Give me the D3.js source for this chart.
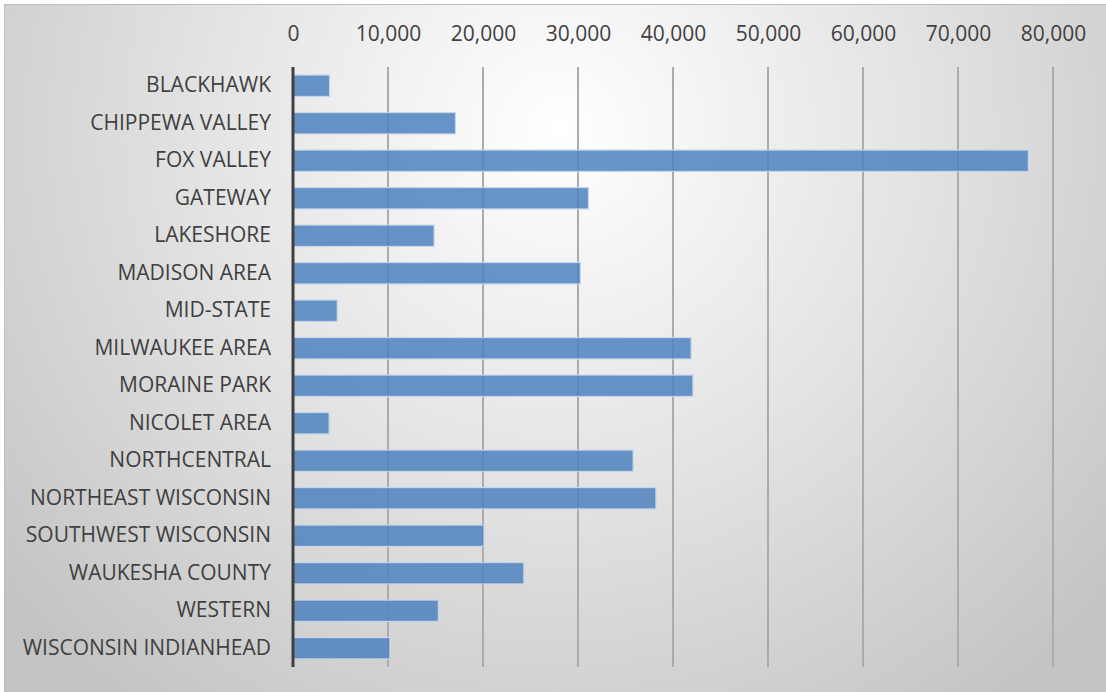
<!DOCTYPE html>
<html>
<head>
<meta charset="utf-8">
<script src="https://cdn.jsdelivr.net/npm/d3@7"></script>
<style>
  body { margin: 0; background: #fff; }
  svg text { font-family: "Open Sans", "DejaVu Sans", sans-serif; fill: #404040; }
</style>
</head>
<body>
<div id="chart"></div>
<script>
var colleges = ["BLACKHAWK", "CHIPPEWA VALLEY", "FOX VALLEY", "GATEWAY", "LAKESHORE",
  "MADISON AREA", "MID-STATE", "MILWAUKEE AREA", "MORAINE PARK", "NICOLET AREA",
  "NORTHCENTRAL", "NORTHEAST WISCONSIN", "SOUTHWEST WISCONSIN", "WAUKESHA COUNTY",
  "WESTERN", "WISCONSIN INDIANHEAD"];
var values = [3850, 17100, 77400, 31100, 14850, 30250, 4650, 41900, 42100, 3800,
  35800, 38200, 20100, 24300, 15300, 10200];
var ticks = [0, 10000, 20000, 30000, 40000, 50000, 60000, 70000, 80000];

var W = 1106, H = 692;
var margin = {top: 67, right: 53, bottom: 25, left: 293};
var width = W - margin.left - margin.right,
    height = H - margin.top - margin.bottom;

var svg = d3.select("#chart").append("svg")
  .attr("width", W)
  .attr("height", H);

var defs = svg.append("defs");
var grad = defs.append("radialGradient")
  .attr("id", "bg")
  .attr("gradientUnits", "userSpaceOnUse")
  .attr("cx", 560).attr("cy", 130).attr("r", 720);
grad.append("stop").attr("offset", "0%").attr("stop-color", "#ffffff");
grad.append("stop").attr("offset", "50%").attr("stop-color", "#e3e3e3");
grad.append("stop").attr("offset", "100%").attr("stop-color", "#c4c4c4");

svg.append("rect")
  .attr("x", 4.5).attr("y", 4.5)
  .attr("width", W).attr("height", H)
  .attr("fill", "url(#bg)")
  .attr("stroke", "#bdbdbd");

var x = d3.scaleLinear().domain([0, 80000]).range([0, width]);
var y = d3.scaleBand().domain(colleges).range([0, height]).paddingInner(0.43).paddingOuter(0.215);

var g = svg.append("g")
  .attr("transform", "translate(" + margin.left + "," + margin.top + ")");

// gridlines
g.selectAll(".grid").data(ticks.slice(1)).enter()
  .append("line")
  .attr("class", "grid")
  .attr("x1", d => x(d)).attr("x2", d => x(d))
  .attr("y1", 0).attr("y2", height)
  .attr("stroke", "#ababab")
  .attr("stroke-width", 2);

// tick labels on top
var xAxis = d3.axisTop(x).tickValues(ticks).tickSize(0).tickPadding(0)
  .tickFormat(d3.format(","));
var gx = g.append("g")
  .attr("transform", "translate(0,-26)")
  .call(xAxis);
gx.select(".domain").remove();
gx.selectAll("text").style("font-size", "21px").attr("fill", "#404040");

// bars
g.selectAll(".bar").data(values).enter()
  .append("rect")
  .attr("class", "bar")
  .attr("x", 0)
  .attr("y", (d, i) => y(colleges[i]))
  .attr("width", d => x(d))
  .attr("height", y.bandwidth())
  .attr("fill", "#4f81bd")
  .attr("fill-opacity", 0.85)
  .attr("stroke", "#c4d5ec")
  .attr("stroke-width", 1.2);

// category axis
var yAxis = d3.axisLeft(y).tickSize(0).tickPadding(22);
var gy = g.append("g").call(yAxis);
gy.select(".domain").remove();
gy.selectAll("text").style("font-size", "21px").attr("fill", "#404040");

g.append("line")
  .attr("x1", 0).attr("x2", 0)
  .attr("y1", 0).attr("y2", height)
  .attr("stroke", "#404040")
  .attr("stroke-width", 3);
</script>
</body>
</html>
